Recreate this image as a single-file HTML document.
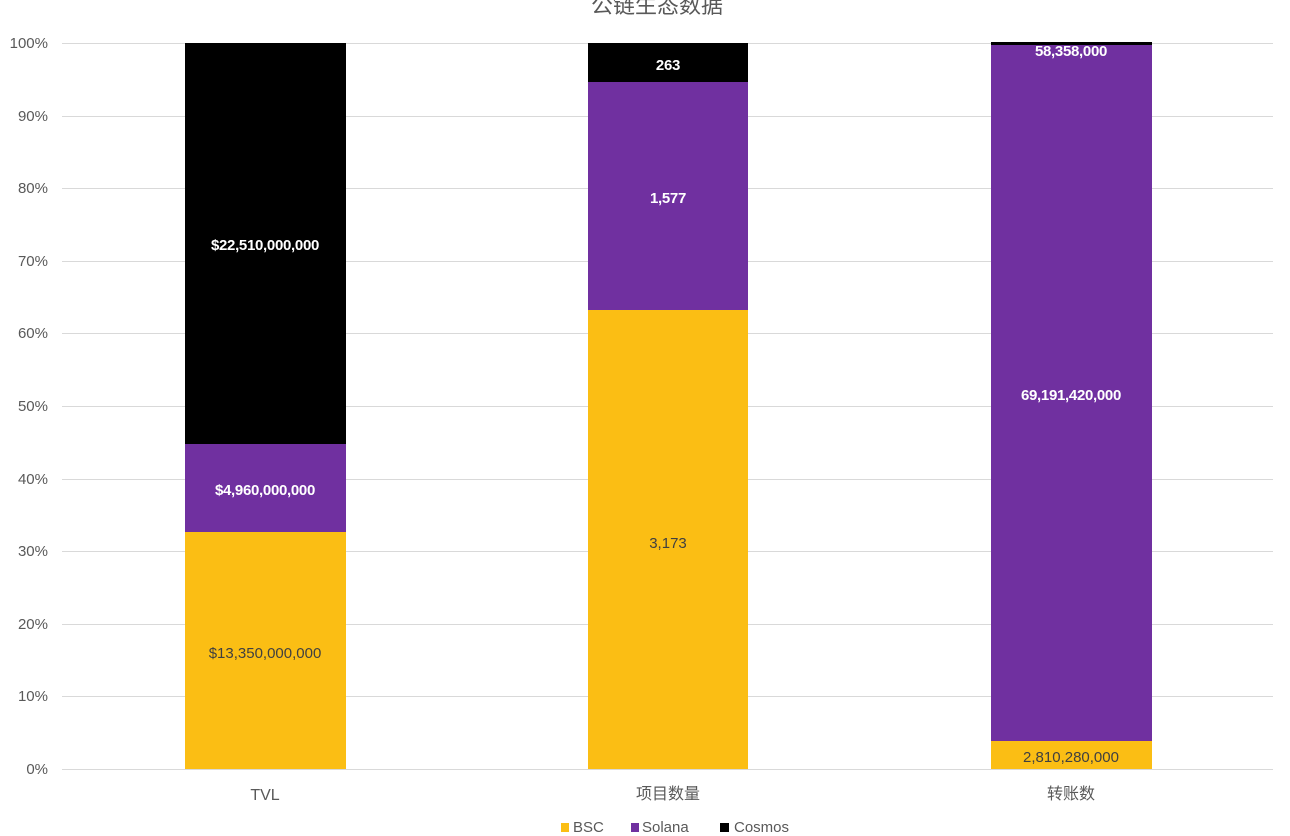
<!DOCTYPE html>
<html><head><meta charset="utf-8"><style>
body{margin:0;width:1290px;height:836px;background:#fff;position:relative;overflow:hidden;font-family:"Liberation Sans","Noto Sans CJK SC",sans-serif;color:#595959}
.a{position:absolute}
.g{position:absolute;left:62px;width:1211px;height:1px;background:#d9d9d9}
.yl{position:absolute;left:0;width:48px;text-align:right;font-size:15px;line-height:16px}
.b{position:absolute}
.l{position:absolute;width:200px;text-align:center;font-size:15px;line-height:18px}
.w{color:#fff;font-weight:bold;letter-spacing:-0.3px}
.d{color:#404040}
.xl{position:absolute;top:785px;width:200px;text-align:center;font-size:16px;line-height:20px}
</style></head><body>
<div class="a" style="left:0;width:1290px;top:-7px;text-align:center;font-size:22px;line-height:26px;color:#595959;padding-left:24px;box-sizing:border-box">公链生态数据</div>
<div class="g" style="top:43px"></div><div class="g" style="top:116px"></div><div class="g" style="top:188px"></div><div class="g" style="top:261px"></div><div class="g" style="top:333px"></div><div class="g" style="top:406px"></div><div class="g" style="top:479px"></div><div class="g" style="top:551px"></div><div class="g" style="top:624px"></div><div class="g" style="top:696px"></div><div class="g" style="top:769px"></div>
<div class="yl" style="top:36px">100%</div><div class="yl" style="top:109px">90%</div><div class="yl" style="top:181px">80%</div><div class="yl" style="top:254px">70%</div><div class="yl" style="top:326px">60%</div><div class="yl" style="top:399px">50%</div><div class="yl" style="top:472px">40%</div><div class="yl" style="top:544px">30%</div><div class="yl" style="top:617px">20%</div><div class="yl" style="top:689px">10%</div><div class="yl" style="top:762px">0%</div>
<div class="b" style="left:185px;width:161px;top:43px;height:401px;background:#000"></div>
<div class="b" style="left:185px;width:161px;top:444px;height:88px;background:#7030a0"></div>
<div class="b" style="left:185px;width:161px;top:532px;height:237px;background:#fbbe14"></div>
<div class="b" style="left:588px;width:160px;top:43px;height:39px;background:#000"></div>
<div class="b" style="left:588px;width:160px;top:82px;height:228px;background:#7030a0"></div>
<div class="b" style="left:588px;width:160px;top:310px;height:459px;background:#fbbe14"></div>
<div class="b" style="left:991px;width:161px;top:42px;height:3px;background:#000"></div>
<div class="b" style="left:991px;width:161px;top:45px;height:696px;background:#7030a0"></div>
<div class="b" style="left:991px;width:161px;top:741px;height:28px;background:#fbbe14"></div>
<div class="l w" style="left:165px;top:237px">$22,510,000,000</div>
<div class="l w" style="left:165px;top:482px">$4,960,000,000</div>
<div class="l d" style="left:165px;top:645px">$13,350,000,000</div>
<div class="l w" style="left:568px;top:57px">263</div>
<div class="l w" style="left:568px;top:190px">1,577</div>
<div class="l d" style="left:568px;top:535px">3,173</div>
<div class="l w" style="left:971px;top:43px">58,358,000</div>
<div class="l w" style="left:971px;top:387px">69,191,420,000</div>
<div class="l d" style="left:971px;top:749px">2,810,280,000</div>
<div class="xl" style="left:165px;top:786px">TVL</div>
<div class="xl" style="left:568px">项目数量</div>
<div class="xl" style="left:971px">转账数</div>
<div class="a" style="left:561px;top:823px;width:8px;height:9px;background:#fbbe14"></div>
<div class="a" style="left:573px;top:819px;font-size:15px">BSC</div>
<div class="a" style="left:631px;top:823px;width:8px;height:9px;background:#7030a0"></div>
<div class="a" style="left:642px;top:819px;font-size:15px">Solana</div>
<div class="a" style="left:720px;top:823px;width:9px;height:9px;background:#000"></div>
<div class="a" style="left:734px;top:819px;font-size:15px">Cosmos</div>
</body></html>
